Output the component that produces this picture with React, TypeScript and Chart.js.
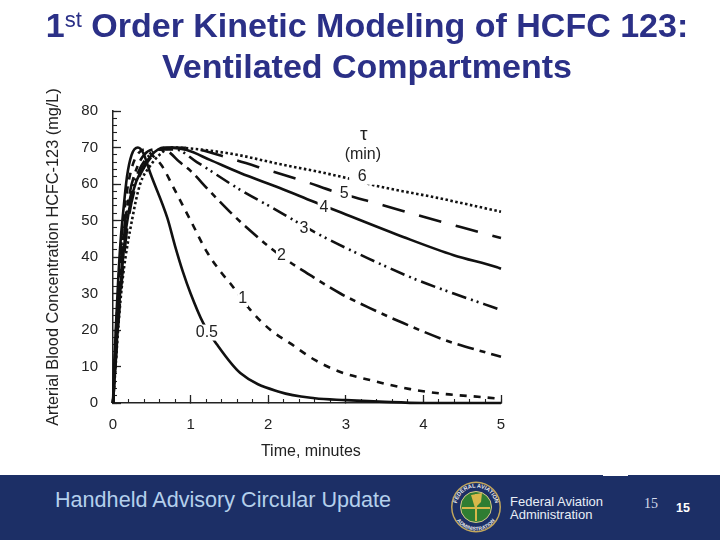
import { useEffect, useRef } from "react";
import { Chart, registerables } from "chart.js";
Chart.register(...registerables);

// tau = 0.5 min
const time05 = [0, 0.015, 0.04, 0.07, 0.1, 0.13, 0.18, 0.24, 0.32, 0.39, 0.48, 0.7, 0.8, 0.9, 1, 1.16, 1.34, 1.64, 2.15, 2.6, 3, 3.5, 4, 5];
const conc05 = [0, 10, 22, 35, 45, 52, 62, 68, 70, 68.5, 63, 50.7, 43, 36, 30, 22, 16, 8.2, 3, 1.3, 0.8, 0.3, 0, 0];
// tau = 1 min
const time1 = [0, 0.02, 0.05, 0.08, 0.12, 0.18, 0.25, 0.33, 0.42, 0.5, 0.63, 0.78, 1, 1.21, 1.4, 1.51, 1.77, 2.03, 2.28, 2.6, 2.93, 3.31, 3.83, 4.26, 4.77, 5];
const conc1 = [0, 10, 24, 35, 47, 58, 65, 68.5, 69.5, 68, 65, 59, 50, 41.4, 35.6, 32.8, 25.5, 20, 16.4, 11.8, 8.5, 6.3, 3.8, 2.5, 1.6, 1.1];
// tau = 2 min
const time2 = [0, 0.025, 0.06, 0.09, 0.14, 0.21, 0.3, 0.4, 0.55, 0.7, 0.86, 1, 1.23, 1.51, 1.77, 2.03, 2.28, 2.58, 2.93, 3.31, 3.74, 4.31, 4.83, 5];
const conc2 = [0, 10, 24, 34, 47, 57, 64, 68, 69.5, 69, 66, 63.6, 58.4, 52.3, 47.2, 42.5, 38.6, 34.5, 30, 26, 21.9, 17, 13.7, 12.7];
// tau = 3 min
const time3 = [0, 0.03, 0.07, 0.1, 0.15, 0.23, 0.33, 0.45, 0.6, 0.8, 1.08, 1.64, 2.06, 2.67, 3.28, 3.92, 4.39, 4.89, 5];
const conc3 = [0, 10, 25, 34, 47, 57, 63.5, 67.5, 69.5, 69.5, 66, 58.4, 53.4, 46, 39.7, 33.7, 30, 26.3, 25.5];
// tau = 4 min
const time4 = [0, 0.03, 0.07, 0.11, 0.17, 0.26, 0.37, 0.5, 0.65, 0.95, 1.25, 1.64, 2.15, 2.58, 2.89, 3.74, 4.39, 4.95, 5];
const conc4 = [0, 10, 24, 35, 48, 58, 64, 68, 70, 69.3, 66.6, 63, 58.9, 55.2, 52.6, 45.5, 40.5, 37.2, 36.8];
// tau = 5 min
const time5 = [0, 0.03, 0.08, 0.12, 0.19, 0.28, 0.4, 0.55, 0.75, 1, 1.51, 2.03, 2.5, 2.84, 3.48, 4, 4.48, 5];
const conc5 = [0, 10, 25, 35, 49, 58.5, 64.5, 68.5, 70, 69.8, 67, 63.6, 60.5, 58, 54.2, 51, 48.2, 45.2];
// tau = 6 min
const time6 = [0, 0.03, 0.08, 0.13, 0.25, 0.35, 0.48, 0.6, 0.75, 1.1, 1.6, 2.03, 3.02, 3.35, 4.18, 5];
const conc6 = [0, 9, 24, 35, 50.7, 60, 65, 68, 70, 69.5, 68, 66, 61.6, 59.7, 56.2, 52.4];

const xMajorTicks = [0, 1, 2, 3, 4, 5];
const yMajorTicks = [0, 10, 20, 30, 40, 50, 60, 70, 80];

const curveLabels = ["0.5", "1", "2", "3", "4", "5", "6"];
const curveLabelTimes = [1.21, 1.67, 2.17, 2.46, 2.72, 2.98, 3.21];
const curveLabelConcs = [19.3, 28.5, 40.5, 47.7, 53.5, 57.5, 62];
const curveLabelGaps = [0, 2, 2, 3, 4, 6, 17];

const INK = "#222222";
const SANS = "'Liberation Sans', Arial, sans-serif";

function toPoints(xs: number[], ys: number[]) {
  return xs.map((x, i) => ({ x, y: ys[i] }));
}

function line(label: string, xs: number[], ys: number[], dash: number[], width = 2.6) {
  return {
    label,
    data: toPoints(xs, ys),
    borderColor: "#111111",
    borderWidth: width,
    borderDash: dash,
    pointRadius: 0,
    cubicInterpolationMode: "monotone" as const,
    fill: false,
    clip: false,
  };
}

// curve names sit in gaps of the lines, plus the tau heading and x title
const annotations = {
  id: "annotations",
  afterDatasetsDraw(chart: Chart) {
    const { ctx, scales } = chart;
    const px = (t: number) => scales.x.getPixelForValue(t);
    const py = (c: number) => scales.y.getPixelForValue(c);
    ctx.save();
    ctx.font = `16px ${SANS}`;
    ctx.textAlign = "center";
    ctx.textBaseline = "middle";
    curveLabels.forEach((text, i) => {
      const x = px(curveLabelTimes[i]);
      const y = py(curveLabelConcs[i]);
      const w = ctx.measureText(text).width + curveLabelGaps[i];
      ctx.fillStyle = "#ffffff";
      ctx.fillRect(x - w / 2, y - 8, w, 16);
      ctx.fillStyle = INK;
      ctx.fillText(text, x, y);
    });
    ctx.fillText("(min)", px(3.22), py(68));
    ctx.fillText("Time, minutes", px(2.55), py(-13.2));
    ctx.font = `19px ${SANS}`;
    ctx.fillText("τ", px(3.23), py(73.5));
    ctx.restore();
  },
};

function SlideTitle() {
  return (
    <div
      style={{
        position: "absolute",
        left: 0,
        top: 5,
        width: 734,
        textAlign: "center",
        color: "#2b3087",
        font: `bold 34px/41px ${SANS}`,
        whiteSpace: "nowrap",
      }}
    >
      <div>
        1<span style={{ fontSize: 22, fontWeight: "normal", lineHeight: 0, verticalAlign: 10 }}>st</span> Order Kinetic Modeling of HCFC 123:
      </div>
      <div>Ventilated Compartments</div>
    </div>
  );
}

function Seal() {
  return (
    <svg width={54} height={54} viewBox="0 0 54 54" style={{ position: "absolute", left: 449, top: 480 }}>
      <defs>
        <path id="sealTop" d="M7.5 27 a19.5 19.5 0 0 1 39 0" />
        <path id="sealBottom" d="M3.5 27 a23.5 23.5 0 0 0 47 0" />
      </defs>
      <ellipse cx={27} cy={27} rx={25} ry={25.5} fill="#c2a75c" />
      <ellipse cx={27} cy={27} rx={23.5} ry={24} fill="#1c2f66" />
      <text fill="#e6e6e6" fontSize={5.6} fontWeight="bold" fontFamily={SANS} textAnchor="middle">
        <textPath href="#sealTop" startOffset="50%">
          FEDERAL AVIATION
        </textPath>
      </text>
      <text fill="#e6e6e6" fontSize={5.2} fontWeight="bold" fontFamily={SANS} textAnchor="middle">
        <textPath href="#sealBottom" startOffset="50%">
          ADMINISTRATION
        </textPath>
      </text>
      <circle cx={27} cy={27} r={15.5} fill="#2f7d32" stroke="#d8c98a" />
      <path d="M13 28 H41 M27 14 V41" stroke="#d8b84a" strokeWidth={2} />
      <path d="M26 28 L22 15 L33 13 L32 22 Z" fill="#d8b84a" />
    </svg>
  );
}

function SlideFooter() {
  return (
    <div style={{ position: "absolute", left: 0, top: 475, width: 720, height: 65, background: "#1c2f66" }}>
      <div style={{ position: "absolute", left: 603, top: 0, width: 25, height: 1, background: "#ffffff" }} />
      <div style={{ position: "absolute", left: 55, top: 12, color: "#b4d0ec", font: `21.6px/26px ${SANS}`, whiteSpace: "nowrap" }}>
        Handheld Advisory Circular Update
      </div>
      <div style={{ position: "absolute", left: 510, top: 21, color: "#e8eef6", font: `13px/12.5px ${SANS}`, whiteSpace: "nowrap" }}>
        Federal Aviation
        <br />
        Administration
      </div>
      <div style={{ position: "absolute", left: 644, top: 21, color: "#d6dcec", font: "14px/16px 'Liberation Serif', serif" }}>15</div>
      <div style={{ position: "absolute", left: 676, top: 26, color: "#ffffff", font: `bold 12.5px/14px ${SANS}` }}>15</div>
    </div>
  );
}

export default function App() {
  const ref = useRef<HTMLCanvasElement | null>(null);

  useEffect(() => {
    if (!ref.current) return;

    const tickFont = { family: SANS, size: 15 };
    const chart = new Chart(ref.current, {
      type: "line",
      data: {
        datasets: [
          line("0.5", time05, conc05, []),
          line("1", time1, conc1, [7, 7]),
          line("2", time2, conc2, [17, 6, 6, 6]),
          line("3", time3, conc3, [15, 5, 2, 4, 2, 5]),
          line("4", time4, conc4, []),
          line("5", time5, conc5, [23, 15]),
          line("6", time6, conc6, [2.5, 2.5]),
        ],
      },
      plugins: [annotations],
      options: {
        animation: false,
        responsive: false,
        devicePixelRatio: 1,
        layout: { autoPadding: false, padding: { top: 111, right: 219, left: 0, bottom: 0 } },
        plugins: { legend: { display: false }, tooltip: { enabled: false }, title: { display: false } },
        scales: {
          x: {
            type: "linear",
            position: "bottom",
            weight: 1,
            min: 0,
            max: 5,
            afterBuildTicks: (s: any) => {
              s.ticks = xMajorTicks.map((value) => ({ value }));
            },
            afterFit: (s: any) => {
              s.height = 137;
            },
            grid: { drawOnChartArea: false, tickLength: -8, tickColor: INK, tickWidth: 1.3 },
            border: { color: INK, width: 1.5 },
            ticks: { color: INK, font: tickFont, padding: 21, maxRotation: 0, autoSkip: false },
          },
          xMinor: {
            type: "linear",
            position: "bottom",
            weight: 0,
            min: 0,
            max: 5,
            afterFit: (s: any) => {
              s.height = 0;
            },
            grid: { drawOnChartArea: false, tickLength: -4, tickColor: INK, tickWidth: 1.1 },
            border: { display: false },
            ticks: { stepSize: 0.2, autoSkip: false, maxRotation: 0, callback: () => "" },
          },
          y: {
            type: "linear",
            position: "left",
            weight: 1,
            min: 0,
            max: 80,
            afterBuildTicks: (s: any) => {
              s.ticks = yMajorTicks.map((value) => ({ value }));
            },
            afterFit: (s: any) => {
              s.width = 113;
            },
            grid: { drawOnChartArea: false, tickLength: -8, tickColor: INK, tickWidth: 1.3 },
            border: { color: INK, width: 1.5 },
            ticks: { color: INK, font: tickFont, padding: 23, autoSkip: false },
            title: {
              display: true,
              text: "Arterial Blood Concentration HCFC-123 (mg/L)",
              color: INK,
              font: { family: SANS, size: 16.3 },
              padding: { top: 43.5, bottom: 0 },
            },
          },
          yMinor: {
            type: "linear",
            position: "left",
            weight: 0,
            min: 0,
            max: 80,
            afterFit: (s: any) => {
              s.width = 0;
            },
            grid: { drawOnChartArea: false, tickLength: -4, tickColor: INK, tickWidth: 1.1 },
            border: { display: false },
            ticks: { stepSize: 2, autoSkip: false, callback: () => "" },
          },
        },
      },
    } as any);

    return () => chart.destroy();
  }, []);

  return (
    <div style={{ position: "absolute", left: 0, top: 0, width: 720, height: 540, background: "#ffffff", overflow: "hidden" }}>
      <canvas ref={ref} width={720} height={540} style={{ display: "block" }} />
      <SlideTitle />
      <SlideFooter />
      <Seal />
    </div>
  );
}
